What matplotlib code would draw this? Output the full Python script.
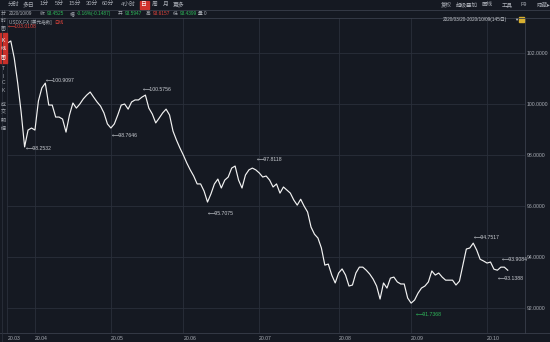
import matplotlib
matplotlib.use('Agg')
import matplotlib.pyplot as plt
from matplotlib.lines import Line2D
from matplotlib.patches import Rectangle
import numpy as np
import pandas as pd

plt.rcParams['font.family'] = ['Liberation Sans', 'Noto Sans CJK SC', 'DejaVu Sans']

# ---------------- data ----------------
dates = pd.bdate_range('2020-03-20', '2020-10-09')
close = [102.38, 102.46, 101.79, 100.81, 99.67, 98.31, 98.97, 99.05, 98.97, 100.11,
         100.62, 100.81, 99.95, 99.95, 99.48, 99.48, 99.40, 98.89, 99.56, 100.03,
         99.83, 99.99, 100.19, 100.34, 100.46, 100.26, 100.07, 99.91, 99.64, 99.21,
         99.05, 99.21, 99.56, 99.95, 99.99, 99.79, 100.07, 100.15, 100.15, 100.26,
         100.34, 99.83, 99.60, 99.25, 99.44, 99.64, 99.79, 99.56, 98.93, 98.58,
         98.27, 97.99, 97.68, 97.41, 97.17, 96.86, 96.86, 96.58, 96.15, 96.47,
         96.86, 97.05, 96.70, 97.01, 97.13, 97.48, 97.56, 97.01, 96.70, 97.21,
         97.41, 97.48, 97.41, 97.29, 97.13, 97.17, 97.01, 96.74, 96.86, 96.50,
         96.74, 96.62, 96.50, 96.23, 96.03, 96.26, 95.99, 95.76, 95.17, 94.89,
         94.74, 94.35, 93.68, 93.72, 93.29, 92.98, 93.37, 93.53, 93.29, 92.86,
         92.90, 93.37, 93.60, 93.60, 93.48, 93.33, 93.13, 92.86, 92.35, 92.98,
         92.78, 93.17, 93.21, 93.02, 92.94, 92.94, 92.39, 92.19, 92.31, 92.58,
         92.78, 92.86, 93.02, 93.45, 93.29, 93.37, 93.21, 93.09, 93.09, 93.09,
         92.90, 93.05, 93.68, 94.31, 94.35, 94.54, 94.27, 93.91, 93.84, 93.76,
         93.80, 93.52, 93.48, 93.60, 93.60, 93.48]
y_ticks = [92, 94, 96, 98, 100, 102]
ann_day = [0, 11, 5, 30, 39, 58, 72, 118, 135, 143, 142]
ann_val = [103.0108, 100.9097, 98.2532, 98.7646, 100.5756, 95.7075, 97.8118,
           91.7368, 94.7517, 93.9084, 93.1388]
ann_kind = ['max', 'h', 'l', 'l', 'h', 'l', 'h', 'min', 'h', 'h', 'l']

toolbar = ['分时', '多日', '1分', '5分', '15分', '30分', '60分', '4小时', '日', '周', '月', '更多']
toolbar_r = ['复权', '超级叠加', '画线', '工具', 'F9', '隐藏▸']
info_date = '2020/10/09'
info_close = 93.4525
info_chg = '-0.16%(-0.1487)'
info_open = 93.5947
info_high = 93.6157
info_low = 93.4399
info_vol = '0'
symbol = 'USDX.FX [美元指数]'
period_name = '日线'
range_text = '2020/03/20-2020/10/09(145日)'

# ---------------- style ----------------
BG = '#151922'
GRID = '#2a2f3a'
SEP = '#3a3f4b'
TXT = '#a9adb5'
RED = '#e0443c'
GREEN = '#2fb85a'
FS = 3.7
FSI = 3.4

W, H = 550, 342
fig = plt.figure(figsize=(W / 100, H / 100), dpi=100, facecolor=BG)


def fx(x):
    return x / W


def fy(y):
    return 1 - y / H


def ftext(x, y, s, color=TXT, size=FS, ha='left', va='center', **kw):
    fig.text(fx(x), fy(y), s, color=color, fontsize=size, ha=ha, va=va, **kw)


def fline(x0, y0, x1, y1, color=SEP, lw=0.6):
    fig.add_artist(Line2D([fx(x0), fx(x1)], [fy(y0), fy(y1)], color=color, lw=lw,
                          transform=fig.transFigure))


ax = fig.add_axes([fx(7), fy(333), (525 - 7) / W, (333 - 17.5) / H])
ax.set_facecolor(BG)
x = np.arange(len(close))
ax.plot(x, close, color='#f2f2f2', lw=0.85, zorder=3)
ax.set_xlim(-0.1, 150.0)
ax.set_ylim(91.02, 103.38)

month_first = [i for i, d in enumerate(dates) if i == 0 or d.month != dates[i - 1].month]
month_lab = [dates[i].strftime('%y.%m') for i in month_first]
ax.set_xticks(month_first)
ax.set_xticklabels(month_lab)
for lab in ax.get_xticklabels():
    lab.set_ha('left')
ax.tick_params(axis='x', length=0, pad=2.0, labelsize=FS, colors=TXT)
ax.yaxis.tick_right()
ax.set_yticks(y_ticks)
ax.set_yticklabels([f'{v:.4f}' for v in y_ticks])
ax.tick_params(axis='y', length=0, pad=1.5, labelsize=FS, colors=TXT)
ax.grid(True, color=GRID, lw=0.6)
for s in ['left', 'top']:
    ax.spines[s].set_visible(False)
ax.spines['right'].set_color(SEP)
ax.spines['right'].set_linewidth(0.6)
ax.spines['bottom'].set_color(SEP)
ax.spines['bottom'].set_linewidth(0.6)

for d, v, k in zip(ann_day, ann_val, ann_kind):
    c = RED if k == 'max' else GREEN if k == 'min' else '#c9ccd2'
    ax.text(d + 0.2, v, '⟵' + f'{v:.4f}', color=c, fontsize=FS, ha='left', va='center',
            zorder=4, family=['DejaVu Sans'] if False else None)

# ---------------- frame / toolbar ----------------
fline(0, 9.5, 550, 9.5)
fline(0, 17.5, 550, 17.5)
fline(0, 333, 7, 333)
fline(525, 333, 550, 333)
fline(1.5, 9.5, 1.5, 342, color=GRID)

tb_x = [13.5, 28.5, 44.5, 59.5, 75, 92, 108, 128.5, 144, 155, 165.5, 179]
for t, xx in zip(toolbar, tb_x):
    if t == '日':
        fig.add_artist(Rectangle((fx(139.5), fy(9)), 9 / W, 8 / H, color='#d0322c',
                                 transform=fig.transFigure))
        ftext(xx, 4.8, t, color='white', ha='center', size=4.2)
    else:
        ftext(xx, 4.8, t, color=TXT, ha='center', size=4.2)

tbr_x = [446, 467, 487.5, 507, 523.5, 543]
for t, xx in zip(toolbar_r, tbr_x):
    ftext(xx, 4.8, t, color=TXT, ha='center', size=4.0)

ftext(9, 13.3, info_date, size=FSI)
ftext(39.5, 13.3, '收', size=FSI)
ftext(46.5, 13.3, f'{info_close:.4f}', color=GREEN, size=FSI)
ftext(70, 13.3, '幅', size=FSI)
ftext(77, 13.3, info_chg, color=GREEN, size=FSI)
ftext(118, 13.3, '开', size=FSI)
ftext(124.5, 13.3, f'{info_open:.4f}', color=GREEN, size=FSI)
ftext(146, 13.3, '高', size=FSI)
ftext(152.5, 13.3, f'{info_high:.4f}', color=RED, size=FSI)
ftext(173, 13.3, '低', size=FSI)
ftext(179.5, 13.3, f'{info_low:.4f}', color=GREEN, size=FSI)
ftext(197.5, 13.3, '量', size=FSI)
ftext(204, 13.3, info_vol, size=FSI)

ftext(9, 22.5, symbol, size=3.3)
ftext(54, 22.5, period_name, color=RED, size=3.3)
ftext(443, 19.5, range_text, size=3.4, color='#c4c7cd')
ftext(514.5, 19.5, '▼', size=3.0, color='#c4c7cd')
fig.add_artist(Rectangle((fx(519), fy(22)), 5 / W, 5 / H, color='#d8b030',
                         transform=fig.transFigure))

# left vertical strip
for ch, yy in zip('分时图', [13, 20.5, 28]):
    ftext(3.3, yy, ch, ha='center', size=3.6)
fig.add_artist(Rectangle((fx(0), fy(63)), 6.5 / W, 30 / H, color='#c8302a',
                         transform=fig.transFigure))
for ch, yy in zip('K线图', [41, 49, 57]):
    ftext(3.3, yy, ch, ha='center', size=3.6, color='white')
for ch, yy in zip('TICK', [69, 76, 83, 91]):
    ftext(3.3, yy, ch, ha='center', size=3.6)
for ch, yy in zip('成交明细', [104, 112, 120, 128]):
    ftext(3.3, yy, ch, ha='center', size=3.6)

fig.savefig('out.png', dpi=100, facecolor=BG)
